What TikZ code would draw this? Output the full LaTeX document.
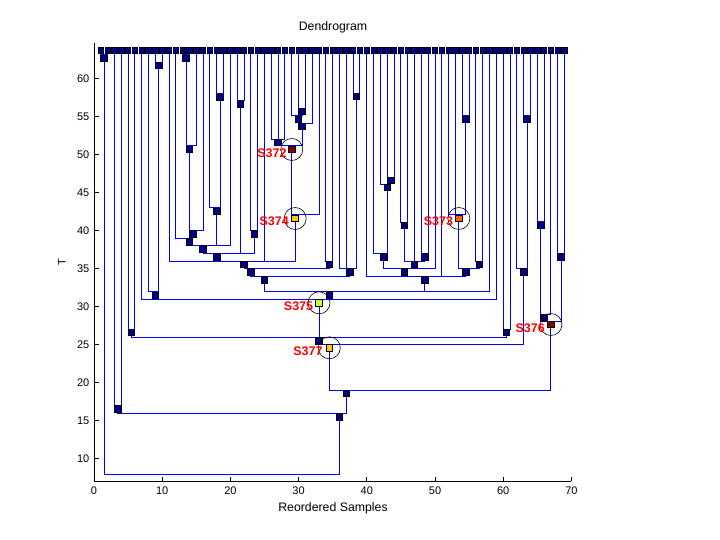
\documentclass[tikz,border=0pt]{standalone}
\usepackage{fontspec}
\setmainfont{Liberation Sans}
\definecolor{lineblue}{RGB}{0,0,255}
\definecolor{navyfill}{RGB}{0,0,140}
\definecolor{hlred}{RGB}{128,0,0}
\definecolor{hlorange}{RGB}{255,100,0}
\definecolor{hlgold}{RGB}{255,200,0}
\definecolor{hlgreen}{RGB}{200,255,60}
\definecolor{lblred}{RGB}{255,0,0}
\tikzset{
  link/.style={draw=lineblue, line width=1pt},
  sqnode/.style={rectangle, draw=black, line width=0.9pt, fill=navyfill,
    minimum width=6.6pt, minimum height=6.2pt, inner sep=0pt, anchor=north},
  leafsq/.style={sqnode, line width=0.8pt, minimum width=5.4pt, minimum height=5.9pt},
  ring/.style={draw=black, line width=0.6pt},
  hllabel/.style={text=lblred, font=\fontsize{12.5}{14}\selectfont\bfseries, anchor=east, inner sep=0pt},
  axisline/.style={draw=black, line width=1pt},
  ticklabel/.style={font=\fontsize{11}{13}\selectfont, inner sep=0pt},
  axlabel/.style={font=\fontsize{12.3}{14}\selectfont, inner sep=0pt},
}
\begin{document}
\begin{tikzpicture}[x=1pt,y=-1pt]
\useasboundingbox[fill=white] (0,0) rectangle (720,540);

% axes
\draw[axisline] (94,43) -- (94,481) -- (571.4,481);
\foreach \i/\l in {0/0,1/10,2/20,3/30,4/40,5/50,6/60,7/70}{
  \draw[axisline] ({94+68.2*\i},481) -- ++(0,-4.5);
  \node[ticklabel, anchor=base] (xl\i) at ({94+68.2*\i},494.5) {\l};
}
\foreach \t in {10,15,20,25,30,35,40,45,50,55,60}{
  \draw[axisline] (94,{458.7-7.61*(\t-10)}) -- ++(4.5,0);
  \node[ticklabel, anchor=base east] (yl\t) at (89.5,{458.7-7.61*(\t-10)+3.9}) {\t};
}
\node[axlabel, anchor=base] (title) at (333,31) {Dendrogram};
\node[axlabel, anchor=base] (xlabel) at (333,511) {Reordered Samples};
\node[ticklabel, anchor=base, rotate=90] (ylabel) at (65.5,262) {T};

\begin{scope}[xshift=94pt, x=6.82pt]
% leaves
\foreach \k in {1,...,69}{ \coordinate (L\k) at (\k,47.3); }
% internal nodes: name / mean leaf position / top (px)
\foreach \n/\x/\y in {
  a12/1.5/55, a34/3.5/405.3, a56/5.5/329, a910/9.5/62.3, a810/9/291.7,
  a1314/13.5/55, a1315/14/146, a1316/14.5/230.3, a1216/14/238.3,
  a1819/18.5/93.7, a1719/18/207.7, a1220/16/245.3, a2122/21.5/101,
  a2324/23.5/230.3, a1224/18/253.3, a2628/27/139.3, a3031/30.5/108.3,
  a2931/30/116, a2932/30.5/123.3, s372/29/146, s374/29.5/215,
  a1133/22/261, a3435/34.5/261, a1135/23/268.3, a3839/38.5/93.3,
  a3639/37.5/268.3, a1139/25/276.3, a4344/43.5/177.3, a4244/43/184.3,
  a4144/42.5/253.3, a4546/45.5/222.3, a4849/48.5/253.3, a4549/47/261,
  a4150/45.5/268.3, a5455/54.5/116, s373/53.5/215, a5657/56.5/261,
  a5257/54.5/268.3, a4057/48.5/276.3, a1158/34.5/291.3, s375/33/299.3,
  a6061/60.5/329, a561/33/337.3, a6364/63.5/116, a6264/63/268.3,
  s377/34.5/344.3, a6566/65.5/222, a6567/66/314.3, a6869/68.5/253.3,
  s376/67/321, a569/37/390, a369/36/413.3, root/35/474}{
  \coordinate (\n) at (\x,\y);
}
% connectors child -> parent
\foreach \c/\p in {
  L1/a12, L2/a12, L3/a34, L4/a34, L5/a56, L6/a56, L9/a910, L10/a910,
  L8/a810, a910/a810, L13/a1314, L14/a1314, a1314/a1315, L15/a1315,
  a1315/a1316, L16/a1316, L12/a1216, a1316/a1216, L18/a1819, L19/a1819,
  L17/a1719, a1819/a1719, a1216/a1220, a1719/a1220, L20/a1220,
  L21/a2122, L22/a2122, L23/a2324, L24/a2324,
  a1220/a1224, a2122/a1224, a2324/a1224,
  L26/a2628, L27/a2628, L28/a2628, L30/a3031, L31/a3031,
  L29/a2931, a3031/a2931, a2931/a2932, L32/a2932,
  a2628/s372, a2932/s372, s372/s374, L33/s374,
  L11/a1133, a1224/a1133, L25/a1133, s374/a1133,
  L34/a3435, L35/a3435, a1133/a1135, a3435/a1135,
  L38/a3839, L39/a3839, L36/a3639, L37/a3639, a3839/a3639,
  a1135/a1139, a3639/a1139,
  L43/a4344, L44/a4344, L42/a4244, a4344/a4244, L41/a4144, a4244/a4144,
  L45/a4546, L46/a4546, L48/a4849, L49/a4849,
  a4546/a4549, L47/a4549, a4849/a4549,
  a4144/a4150, a4549/a4150, L50/a4150,
  L54/a5455, L55/a5455, L52/s373, L53/s373, a5455/s373,
  L56/a5657, L57/a5657, s373/a5257, a5657/a5257,
  L40/a4057, a4150/a4057, L51/a4057, a5257/a4057,
  a1139/a1158, a4057/a1158, L58/a1158,
  L7/s375, a810/s375, a1158/s375, L59/s375,
  L60/a6061, L61/a6061, a56/a561, s375/a561, a6061/a561,
  L63/a6364, L64/a6364, L62/a6264, a6364/a6264,
  a561/s377, a6264/s377,
  L65/a6566, L66/a6566, a6566/a6567, L67/a6567, L68/a6869, L69/a6869,
  a6567/s376, a6869/s376, s377/a569, s376/a569,
  a34/a369, a569/a369, a12/root, a369/root}{
  \draw[link] (\c) |- (\p);
}
% leaf squares
\foreach \k in {1,...,69}{ \node[leafsq] (L\k-sq) at (L\k) {}; }
% internal squares
\foreach \n in {a12,a34,a56,a910,a810,a1314,a1315,a1316,a1216,a1819,a1719,
  a1220,a2122,a2324,a1224,a2628,a3031,a2931,a2932,a1133,a3435,a1135,a3839,
  a3639,a1139,a4344,a4244,a4144,a4546,a4849,a4549,a4150,a5455,a5657,a5257,
  a4057,a1158,a6061,a561,a6364,a6264,a6566,a6567,a6869,a569,a369}{
  \node[sqnode] (\n-sq) at (\n) {};
}
\node[sqnode, fill=hlred] (s372-sq) at (s372) {};
\node[sqnode, fill=hlgold] (s374-sq) at (s374) {};
\node[sqnode, fill=hlorange] (s373-sq) at (s373) {};
\node[sqnode, fill=hlgreen] (s375-sq) at (s375) {};
\node[sqnode, fill=hlgold] (s377-sq) at (s377) {};
\node[sqnode, fill=hlred] (s376-sq) at (s376) {};
% rings
\foreach \n/\x/\y in {s372/29/149.5, s374/29.5/218.5, s373/53.5/218.5,
  s375/33/302.8, s377/34.5/347.8, s376/67/324.5}{
  \draw[ring] (\x,\y) circle[radius=11pt];
}
% labels
\node[hllabel] (t372) at (28.26,153.7) {S372};
\node[hllabel] (t374) at (28.59,221.3) {S374};
\node[hllabel] (t373) at (52.68,221.7) {S373};
\node[hllabel] (t375) at (32.16,305.9) {S375};
\node[hllabel] (t377) at (33.53,351.7) {S377};
\node[hllabel] (t376) at (66.13,328.4) {S376};
\end{scope}
\end{tikzpicture}
\end{document}
